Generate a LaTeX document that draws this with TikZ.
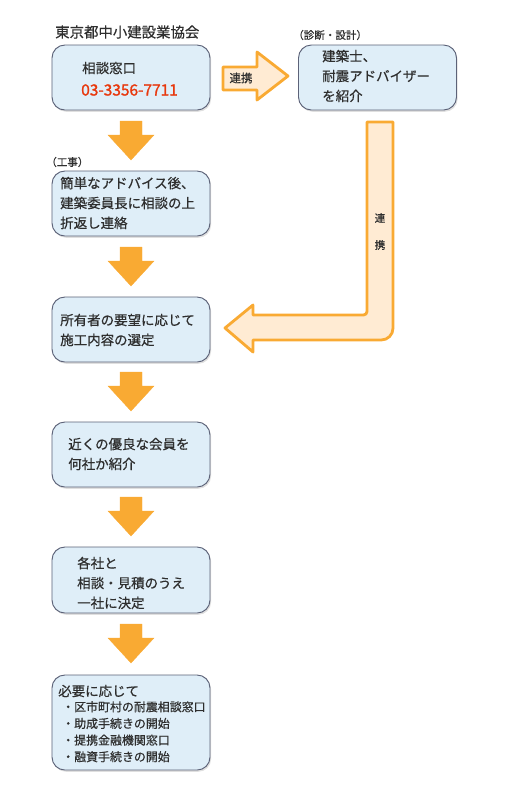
\documentclass[tikz,border=0pt]{standalone}
\usepackage{fontspec}
\setmainfont{Noto Sans CJK JP}[FakeBold=0.6]
\newfontfamily\phonefont{Noto Sans CJK JP}[FakeBold=1.4]
\usetikzlibrary{positioning}
\usetikzlibrary{shadows}
\definecolor{boxfill}{HTML}{DFEEF8}
\definecolor{boxline}{HTML}{5C6278}
\definecolor{arrowor}{HTML}{F9AA33}
\definecolor{arrowfill}{HTML}{FFEBD3}
\definecolor{phonered}{HTML}{E8380D}
\definecolor{txtgray}{HTML}{2E2E2E}
\tikzstyle{flowbox}=[draw=boxline,line width=0.8pt,fill=boxfill,rounded corners=11pt,minimum width=4.74cm,drop shadow={shadow xshift=1pt,shadow yshift=-1.5pt,opacity=0.25}]
\tikzstyle{boxtext}=[anchor=west,align=left,inner sep=0pt,text=txtgray,font=\fontsize{11.5}{17}\selectfont]
\tikzstyle{smalltext}=[anchor=west,inner sep=0pt,text=txtgray,font=\fontsize{9}{11}\selectfont]
\tikzstyle{downarrow}=[fill=arrowor,draw=arrowor,line width=0.3pt]
\tikzstyle{sidearrow}=[fill=arrowfill,draw=arrowor,line width=2.4pt,line join=round]

\begin{document}
\begin{tikzpicture}[x=0.03cm,y=-0.03cm]
	\useasboundingbox (0,0) rectangle (510,800);

	% Left column
	\node[anchor=west,inner sep=0pt,text=txtgray,font=\fontsize{12.3}{14}\selectfont] (title) at (55,32) {東京都中小建設業協会};
	\node[flowbox,minimum height=1.95cm] (window) at (131,77.5) {};
	\node[boxtext] (windowt) at (82,68) {相談窓口};
	\node[boxtext,text=phonered,font=\fontsize{13.2}{17}\phonefont] (phone) at (81,90) {03-3356-7711};

	\node[smalltext] (kouji) at (46,162) {（工事）};
	\node[flowbox,minimum height=1.95cm] (advice) at (131,203.5) {};
	\node[boxtext] (advicet) at (60,203) {簡単なアドバイス後、\\建築委員長に相談の上\\折返し連絡};

	\node[flowbox,minimum height=1.95cm] (select) at (131,329.5) {};
	\node[boxtext] (selectt) at (60,330) {所有者の要望に応じて\\施工内容の選定};

	\node[flowbox,minimum height=1.95cm] (member) at (131,454.5) {};
	\node[boxtext] (membert) at (68,454) {近くの優良な会員を\\何社か紹介};

	\node[flowbox,minimum height=1.98cm] (decide) at (131,580) {};
	\node[boxtext] (decidet) at (77,583) {各社と\\相談・見積のうえ\\一社に決定};

	\node[flowbox,minimum height=2.85cm] (needs) at (131,722.5) {};
	\node[boxtext] (needst) at (58,691) {必要に応じて};
	\node[anchor=north west,align=left,inner sep=0pt,text=txtgray,font=\fontsize{10.2}{14.2}\selectfont] (needsl) at (62,701) {・区市町村の耐震相談窓口\\・助成手続きの開始\\・提携金融機関窓口\\・融資手続きの開始};

	% Right column
	\node[smalltext] (shindan) at (293,35) {（診断・設計）};
	\node[flowbox,minimum height=1.95cm] (architect) at (377.5,77.5) {};
	\node[boxtext] (architectt) at (322,76) {建築士、\\耐震アドバイザー\\を紹介};

	% Down arrows
	\foreach \t in {121,247,372,497,624}
		\draw[downarrow] (120,\t) -- (142,\t) -- (142,\t+14) -- (154,\t+14) -- (131,\t+39) -- (108,\t+14) -- (120,\t+14) -- cycle;

	% Link arrows
	\draw[sidearrow] (223,67) -- (257,67) -- (257,52) -- (288,76) -- (257,100) -- (257,90) -- (223,90) -- cycle;
	\node[inner sep=0pt,text=txtgray,font=\fontsize{9.8}{11}\selectfont] (linka) at (241,78) {連携};

	\draw[sidearrow] (367,122) -- (393,122) [rounded corners=10pt] -- (393,340) [sharp corners] -- (253,340) -- (253,352) -- (225,328) -- (253,305) -- (253,315) [rounded corners=3pt] -- (367,315) [sharp corners] -- cycle;
	\node[inner sep=0pt,text=txtgray,font=\fontsize{9}{11}\selectfont] (linkb1) at (380,218) {連};
	\node[inner sep=0pt,text=txtgray,font=\fontsize{9}{11}\selectfont] (linkb2) at (380,245) {携};
\end{tikzpicture}
\end{document}
